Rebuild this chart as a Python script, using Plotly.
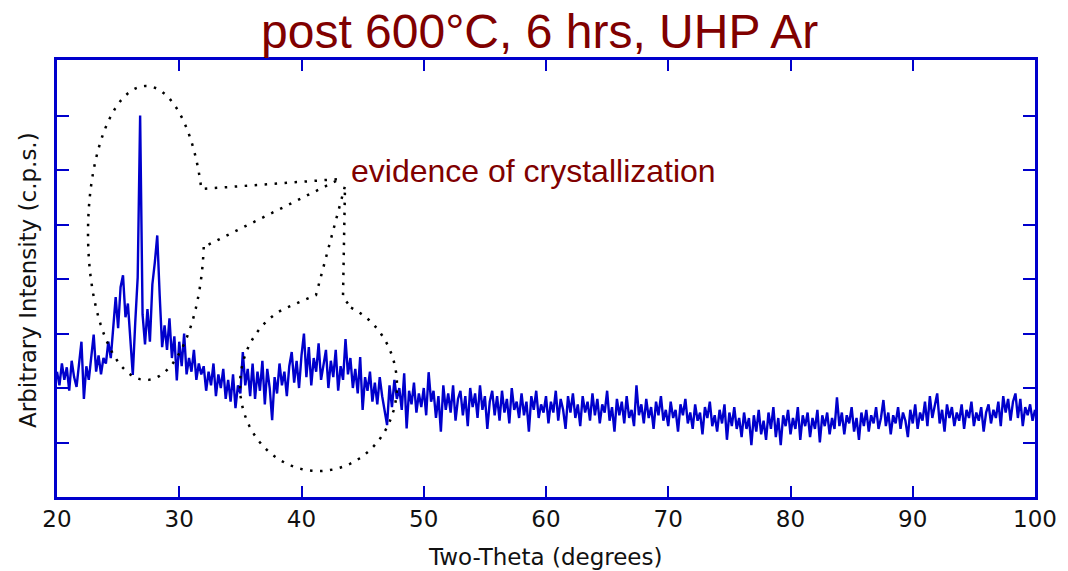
import numpy as np
import plotly.graph_objects as go

# ---------------- data ----------------
two_theta = np.round(np.arange(20.0, 100.0001, 0.2), 1)

int_20_30 = [
    2.30, 2.05, 2.45, 2.15, 2.38, 1.95, 2.50, 2.20, 2.02, 2.40,
    2.85, 1.80, 2.40, 2.15, 2.55, 2.98, 2.30, 2.60, 2.25, 2.55,
    2.45, 2.85, 2.55, 3.05, 3.67, 3.10, 3.85, 4.07, 3.30, 3.55,
    2.90, 2.24, 3.20, 4.03, 7.00, 3.35, 2.80, 3.45, 2.85, 3.90,
    4.30, 4.80, 3.70, 2.75, 3.15, 2.70, 3.28, 2.55, 2.95, 2.14,
]
int_30_40 = [
    2.85, 2.40, 3.00, 2.25, 2.55, 2.30, 2.70, 2.15, 2.45, 2.25,
    2.40, 1.95, 2.30, 2.05, 2.45, 1.85, 2.25, 2.00, 2.35, 1.80,
    2.15, 1.75, 2.25, 1.63, 2.05, 1.90, 2.66, 2.05, 2.35, 1.85,
    2.45, 1.80, 2.30, 1.95, 2.50, 1.70, 2.35, 2.00, 1.41, 2.20,
    1.90, 2.45, 2.05, 2.30, 1.85, 2.40, 2.66, 2.10, 2.50, 2.00,
]
int_40_50 = [
    2.60, 3.00, 2.20, 2.75, 2.05, 2.55, 2.30, 2.82, 2.15, 2.45,
    2.70, 2.00, 2.50, 2.20, 2.70, 1.95, 2.40, 2.15, 2.90, 2.25,
    2.55, 2.00, 2.35, 1.90, 2.57, 1.60, 2.20, 1.95, 2.30, 1.75,
    2.10, 1.70, 2.20, 1.85, 1.55, 1.32, 2.05, 1.65, 2.15, 1.80,
    2.00, 1.60, 2.27, 1.26, 1.95, 1.70, 2.10, 1.55, 1.90, 1.65,
]
int_50_60 = [
    2.00, 1.50, 2.29, 1.75, 1.95, 1.45, 1.85, 1.20, 2.05, 1.60,
    1.90, 1.55, 2.05, 1.40, 1.80, 1.95, 1.50, 1.85, 1.30, 2.00,
    1.65, 1.90, 1.45, 2.05, 1.60, 1.85, 1.25, 1.75, 1.95, 1.50,
    1.85, 1.40, 1.95, 1.55, 1.80, 1.35, 2.00, 1.60, 1.75, 1.45,
    1.90, 1.50, 1.75, 1.20, 1.85, 1.60, 1.95, 1.45, 1.70, 1.55,
]
int_60_70 = [
    1.85, 1.35, 1.75, 1.55, 1.95, 1.40, 1.80, 1.60, 1.25, 1.85,
    1.55, 1.90, 1.45, 1.70, 1.30, 1.85, 1.55, 1.75, 1.40, 1.90,
    1.50, 1.80, 1.35, 1.70, 1.55, 1.95, 1.40, 1.65, 1.20, 1.80,
    1.50, 1.75, 1.35, 1.85, 1.45, 1.60, 1.30, 2.05, 1.50, 1.70,
    1.35, 1.80, 1.45, 1.65, 1.25, 1.75, 1.50, 1.85, 1.40, 1.60,
]
int_70_80 = [
    1.30, 1.75, 1.45, 1.60, 1.20, 1.70, 1.50, 1.80, 1.35, 1.55,
    1.25, 1.70, 1.40, 1.55, 1.15, 1.65, 1.45, 1.75, 1.30, 1.50,
    1.20, 1.60, 1.35, 1.70, 1.05, 1.55, 1.30, 1.65, 1.25, 1.45,
    1.10, 1.55, 1.25, 1.45, 0.95, 1.50, 1.20, 1.60, 1.15, 1.40,
    1.05, 1.55, 1.25, 1.65, 1.10, 1.45, 0.95, 1.50, 1.30, 1.60,
]
int_80_90 = [
    1.15, 1.45, 1.25, 1.65, 1.05, 1.50, 1.30, 1.55, 1.10, 1.45,
    1.25, 1.60, 1.00, 1.50, 1.30, 1.55, 1.15, 1.45, 1.25, 1.83,
    1.30, 1.55, 1.15, 1.50, 1.35, 1.65, 1.20, 1.45, 1.05, 1.55,
    1.30, 1.60, 1.20, 1.50, 1.35, 1.65, 1.25, 1.45, 1.78, 1.30,
    1.55, 1.15, 1.50, 1.35, 1.65, 1.25, 1.55, 1.40, 1.10, 1.60,
]
int_90_100 = [
    1.35, 1.70, 1.25, 1.55, 1.40, 1.75, 1.30, 1.85, 1.45, 1.65,
    1.90, 1.35, 1.60, 1.20, 1.70, 1.45, 1.65, 1.30, 1.55, 1.40,
    1.70, 1.25, 1.60, 1.45, 1.75, 1.30, 1.55, 1.40, 1.65, 1.20,
    1.55, 1.70, 1.35, 1.60, 1.45, 1.75, 1.30, 1.85, 1.55, 1.80,
    1.40, 1.75, 1.90, 1.45, 1.80, 1.30, 1.65, 1.50, 1.70, 1.40,
    1.60,
]
intensity = (int_20_30 + int_30_40 + int_40_50 + int_50_60 +
             int_60_70 + int_70_80 + int_80_90 + int_90_100)

x_ticks = [20, 30, 40, 50, 60, 70, 80, 90, 100]
y_ticks = [1, 2, 3, 4, 5, 6, 7]

title_text = "post 600°C, 6 hrs, UHP Ar"
note_text = "evidence of crystallization"
x_title = "Two-Theta (degrees)"
y_title = "Arbitrary Intensity (c.p.s.)"

# ---------------- layout geometry ----------------
W, H = 1068, 571
L, R, T, B = 57, 1035, 60, 497
BLUE = "#0000CC"
DARKRED = "#800000"


def P(px, py):
    return (px - L) / (R - L), (B - py) / (B - T)


def path_from(points, close=True):
    s = ""
    for i, (px, py) in enumerate(points):
        x, y = P(px, py)
        s += ("M" if i == 0 else "L") + f"{x:.5f},{y:.5f} "
    return s + ("Z" if close else "")


def arc(cx, cy, rx, ry, t0, t1, n=120):
    ts = np.linspace(t0, t1, n)
    return [(cx + rx * np.cos(t), cy + ry * np.sin(t)) for t in ts]


# callout 1 (around the sharp peaks)
c1 = arc(146, 233, 58, 147, np.arcsin(14 / 147), 2 * np.pi - np.arcsin(44 / 147))
c1 += [(340, 179)]
# callout 2 (around the broad hump)
c2 = arc(318.5, 385.5, 78.5, 85.5, np.arctan2(-0.910, 0.414), np.arctan2(-0.885, -0.465) + 2 * np.pi)
c2 += [(316, 295), (345, 186), (343, 297)]

dotted = dict(color="black", width=2.5, dash="2.5px,7.5px")

fig = go.Figure()
fig.add_trace(go.Scatter(
    x=two_theta, y=intensity, mode="lines",
    line=dict(color=BLUE, width=2.4), hoverinfo="x+y", showlegend=False,
))

fig.update_layout(
    width=W, height=H,
    margin=dict(l=L, r=W - R, t=T, b=H - B, pad=0),
    paper_bgcolor="white", plot_bgcolor="white",
    font=dict(family="DejaVu Sans", size=23, color="black"),
    xaxis=dict(
        range=[20, 100], tickvals=x_ticks, ticktext=[str(v) for v in x_ticks],
        ticks="inside", ticklen=11, tickwidth=2.2, tickcolor=BLUE,
        showline=True, linecolor=BLUE, linewidth=2.5, mirror="ticks",
        showgrid=False, zeroline=False,
        tickfont=dict(family="DejaVu Sans", size=23, color="#111"),
    ),
    yaxis=dict(
        range=[0, 8.02], tickvals=y_ticks, showticklabels=False,
        ticks="inside", ticklen=12, tickwidth=2.2, tickcolor=BLUE,
        showline=True, linecolor=BLUE, linewidth=2.5, mirror="ticks",
        showgrid=False, zeroline=False,
    ),
    shapes=[
        dict(type="path", xref="paper", yref="paper", path=path_from(c1), line=dotted, layer="above"),
        dict(type="path", xref="paper", yref="paper", path=path_from(c2), line=dotted, layer="above"),
    ],
)

tx, ty = P(539, 31)
fig.add_annotation(x=tx, y=ty, xref="paper", yref="paper", text=title_text, showarrow=False,
                   xanchor="center", yanchor="middle",
                   font=dict(family="Liberation Sans", size=48, color=DARKRED))
nx, ny = P(349, 171)
fig.add_annotation(x=nx, y=ny, xref="paper", yref="paper", text=note_text, showarrow=False,
                   xanchor="left", yanchor="middle",
                   font=dict(family="Liberation Sans", size=32, color=DARKRED))
ax, ay = P(545, 557)
fig.add_annotation(x=ax, y=ay, xref="paper", yref="paper", text=x_title, showarrow=False,
                   xanchor="center", yanchor="middle",
                   font=dict(family="DejaVu Sans", size=23, color="#111"))
bx, by = P(28, 280)
fig.add_annotation(x=bx, y=by, xref="paper", yref="paper", text=y_title, showarrow=False,
                   xanchor="center", yanchor="middle", textangle=-90,
                   font=dict(family="DejaVu Sans", size=23, color="#111"))

fig.write_html("out.html")
